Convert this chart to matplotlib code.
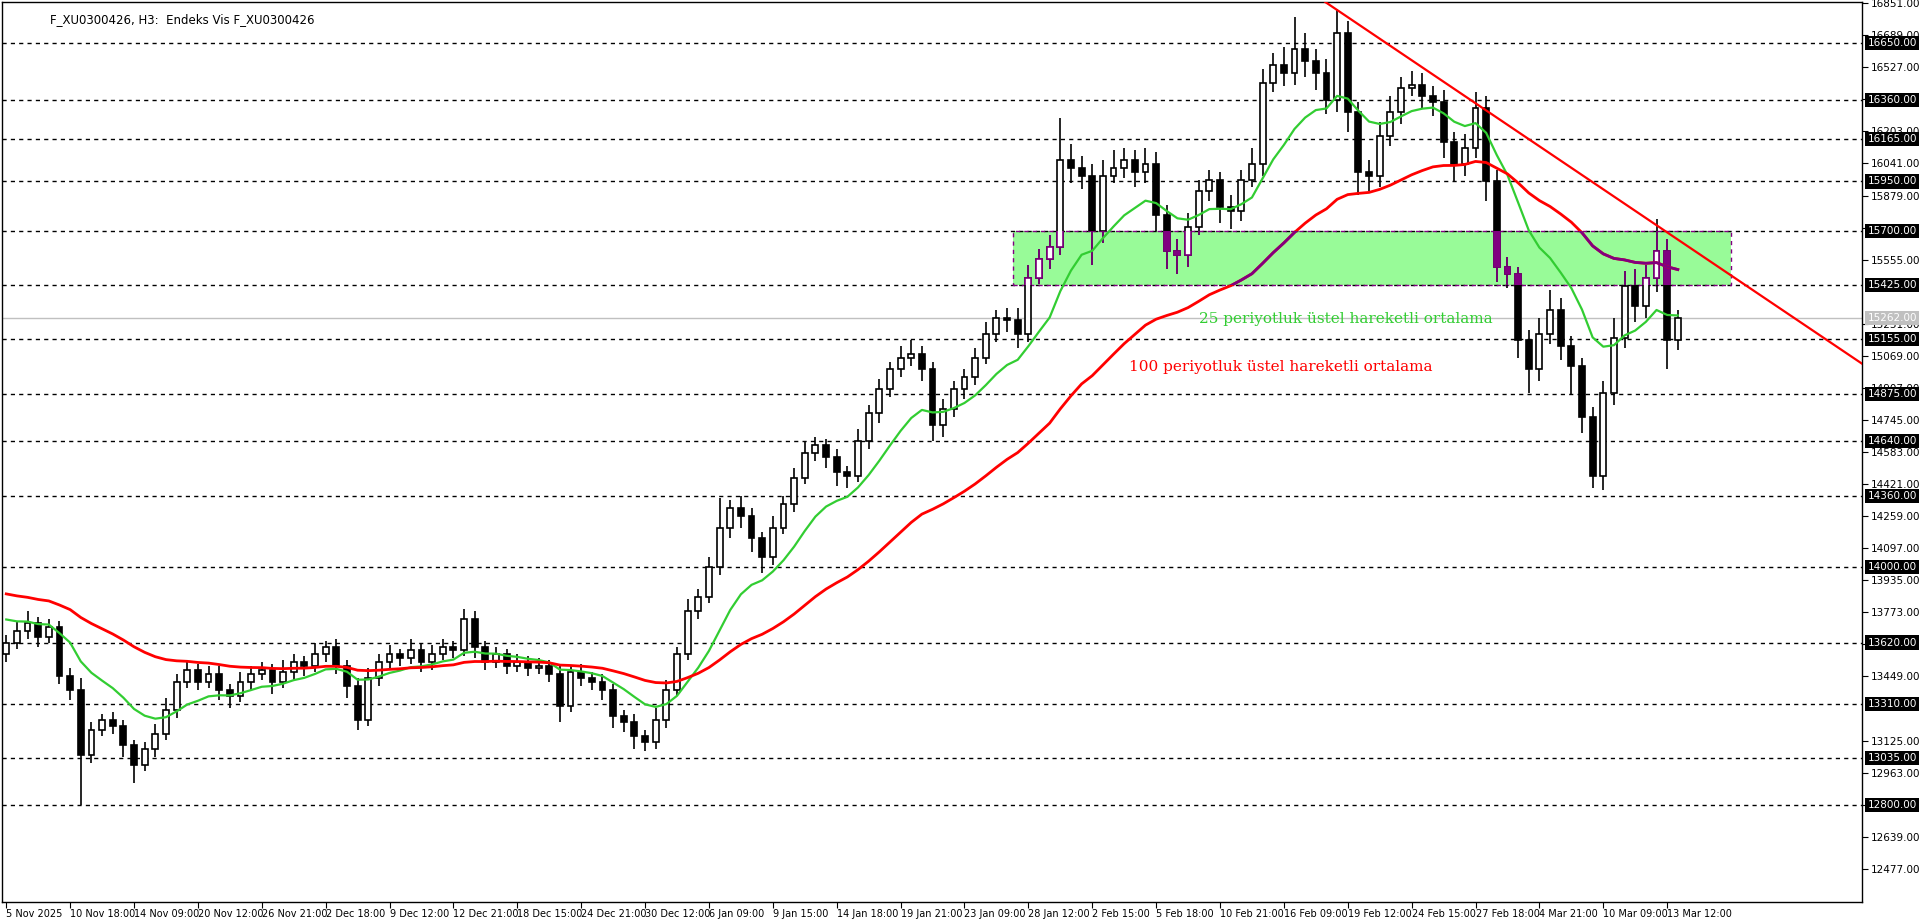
import numpy as np
import matplotlib.pyplot as plt
from matplotlib.patches import Rectangle

# closes (one bar here ~ two H3 bars of the original)
closes = [13620, 13680, 13720, 13650, 13700, 13450, 13380, 13050, 13180, 13230,
          13200, 13100, 13000, 13080, 13160, 13280, 13420, 13480, 13420, 13460,
          13380, 13350, 13420, 13460, 13480, 13420, 13470, 13520, 13500, 13560,
          13600, 13500, 13400, 13230, 13440, 13520, 13560, 13540, 13580, 13520,
          13560, 13600, 13580, 13740, 13600, 13520, 13560, 13500, 13520, 13490,
          13500, 13460, 13300, 13470, 13440, 13420, 13380, 13250, 13220, 13150,
          13120, 13230, 13380, 13560, 13780, 13850, 14000, 14200, 14300, 14260,
          14150, 14050, 14200, 14320, 14450, 14580, 14620, 14560, 14480, 14460,
          14640, 14780, 14900, 15000, 15060, 15080, 15000, 14720, 14800, 14900,
          14960, 15060, 15180, 15260, 15250, 15180, 15460, 15560, 15620, 16060,
          16020, 15980, 15700, 15980, 16020, 16060, 16000, 16040, 15780, 15600,
          15580, 15720, 15900, 15960, 15820, 15800, 15960, 16040, 16450, 16540,
          16500, 16620, 16560, 16500, 16360, 16700, 16300, 16000, 15980, 16180,
          16300, 16420, 16440, 16380, 16350, 16150, 16040, 16120, 16320, 15950,
          15520, 15480, 15150, 15000, 15180, 15300, 15120, 15020, 14760, 14460,
          14880, 15160, 15420, 15320, 15460, 15600, 15150, 15260]
first_open = 13560
up_wick = [40, 50, 60, 30, 40, 30, 40, 60, 40, 30,
           40, 30, 30, 40, 50, 60, 40, 50, 30, 40,
           40, 30, 50, 40, 40, 30, 60, 40, 30, 60,
           30, 40, 30, 40, 50, 40, 50, 30, 60, 40,
           50, 40, 30, 50, 40, 30, 40, 30, 40, 30,
           40, 30, 40, 30, 40, 30, 40, 30, 30, 40,
           30, 60, 50, 40, 60, 40, 50, 150, 40, 60,
           40, 30, 60, 40, 50, 60, 40, 30, 40, 30,
           60, 40, 50, 40, 60, 70, 40, 40, 50, 40,
           40, 50, 60, 40, 50, 60, 70, 50, 60, 210,
           80, 60, 60, 80, 90, 60, 50, 80, 60, 50,
           60, 70, 60, 50, 40, 60, 50, 80, 70, 60,
           90, 160, 80, 60, 70, 120, 60, 50, 60, 70,
           80, 60, 70, 60, 50, 60, 50, 70, 80, 60,
           60, 50, 40, 50, 80, 100, 60, 50, 40, 50,
           60, 100, 80, 90, 70, 160, 60, 40]
lo_wick = [40, 30, 40, 50, 30, 40, 50, 250, 40, 30,
           40, 60, 90, 30, 40, 30, 40, 30, 40, 30,
           50, 60, 30, 40, 30, 60, 30, 40, 50, 30,
           40, 40, 60, 50, 30, 40, 30, 40, 30, 50,
           40, 30, 40, 30, 60, 40, 30, 40, 30, 40,
           30, 40, 80, 30, 40, 40, 50, 60, 50, 70,
           50, 40, 40, 30, 30, 40, 30, 40, 50, 60,
           70, 80, 40, 30, 40, 30, 40, 60, 70, 60,
           30, 40, 50, 40, 40, 40, 60, 80, 60, 40,
           50, 40, 30, 40, 60, 70, 40, 30, 50, 40,
           80, 70, 170, 60, 40, 50, 80, 60, 80, 90,
           100, 60, 40, 50, 80, 90, 50, 40, 60, 50,
           70, 60, 80, 90, 70, 60, 100, 120, 80, 60,
           50, 60, 40, 60, 70, 80, 90, 60, 50, 100,
           80, 70, 90, 120, 60, 50, 70, 150, 80, 60,
           70, 60, 50, 80, 60, 70, 150, 50]

levels = [16650, 16360, 16165, 15950, 15700, 15425, 15155, 14875, 14640,
          14360, 14000, 13620, 13310, 13035, 12800]
last_price = 15262
y_ticks = [16851, 16689, 16527, 16365, 16203, 16041, 15879, 15717, 15555,
           15231, 15069, 14907, 14745, 14583, 14421, 14259, 14097, 13935, 13773,
           13611, 13449, 13125, 12963, 12801, 12639, 12477]
x_labels = ["5 Nov 2025", "10 Nov 18:00", "14 Nov 09:00", "20 Nov 12:00", "26 Nov 21:00",
            "2 Dec 18:00", "9 Dec 12:00", "12 Dec 21:00", "18 Dec 15:00", "24 Dec 21:00",
            "30 Dec 12:00", "6 Jan 09:00", "9 Jan 15:00", "14 Jan 18:00", "19 Jan 21:00",
            "23 Jan 09:00", "28 Jan 12:00", "2 Feb 15:00", "5 Feb 18:00", "10 Feb 21:00",
            "16 Feb 09:00", "19 Feb 12:00", "24 Feb 15:00", "27 Feb 18:00", "4 Mar 21:00",
            "10 Mar 09:00", "13 Mar 12:00"]

closes = np.array(closes, float)
opens = np.r_[first_open, closes[:-1]]
highs = np.maximum(opens, closes) + np.array(up_wick)
lows = np.minimum(opens, closes) - np.array(lo_wick)
x = np.arange(len(closes))


def ema(values, n, seed):
    a = 2.0 / (n + 1)
    out = []
    prev = seed
    for v in values:
        prev = prev + a * (v - prev)
        out.append(prev)
    return np.array(out)


ema_fast = ema(closes, 11, 13760)
ema_slow = ema(closes, 36, 13880)

fig = plt.figure(figsize=(19.2, 9.23), dpi=100)
ax = fig.add_axes([2 / 1920, 21 / 923, 1860 / 1920, 900 / 923])
ax.set_xlim(-0.4, 174.3)
ax.set_ylim(12309, 16857)

box = Rectangle((94.6, 15425), 67.4, 275, facecolor="#98fb98", edgecolor="none", zorder=0)
ax.add_patch(box)

for lv in levels:
    ax.axhline(lv, color="black", lw=1, ls=(0, (3, 3)), zorder=1)
ax.axhline(last_price, color="#c0c0c0", lw=1, zorder=1)


def candles(color, clip=None):
    up = closes >= opens
    body_lo = np.minimum(opens, closes)
    body_h = np.maximum(np.abs(closes - opens), 8)
    wl = ax.vlines(x, lows, highs, color=color, lw=1.2, zorder=3)
    b1 = ax.bar(x[up], body_h[up], bottom=body_lo[up], width=0.55,
                facecolor="white", edgecolor=color, lw=1.2, zorder=4)
    b2 = ax.bar(x[~up], body_h[~up], bottom=body_lo[~up], width=0.55,
                facecolor=color, edgecolor=color, lw=1.2, zorder=4)
    if clip is not None:
        wl.set_clip_path(clip)
        for p in list(b1) + list(b2):
            p.set_clip_path(clip)


candles("black")
ax.plot(x, ema_fast, color="#32cd32", lw=1.6, zorder=5)
ax.plot(x, ema_slow, color="red", lw=2, zorder=5)

# parts inside the zone are shown purple, as on the terminal
clip_box = Rectangle((94.6, 15425), 67.4, 275, transform=ax.transData)
candles("#800080", clip_box)
pl, = ax.plot(x, ema_slow, color="#800080", lw=2, zorder=6)
pl.set_clip_path(clip_box)
ax.plot([94.6, 162, 162, 94.6, 94.6], [15425, 15425, 15700, 15700, 15425],
        color="#800080", lw=1, ls=(0, (3, 3)), zorder=2)

# trend line
ax.axline((124.3, 16842), (175, 15004), color="red", lw=1.6, zorder=6)

ax.text(112, 15256, "25 periyotluk üstel hareketli ortalama", color="#32cd32",
        fontsize=11, family="DejaVu Serif", va="center", zorder=7)
ax.text(105.5, 15014, "100 periyotluk üstel hareketli ortalama", color="red",
        fontsize=11, family="DejaVu Serif", va="center", zorder=7)

ax.text(48 / 1860, 0.988, "F_XU0300426, H3:  Endeks Vis F_XU0300426", transform=ax.transAxes,
        fontsize=8.5, va="top", ha="left")

ax.yaxis.tick_right()
ax.set_yticks(y_ticks)
ax.set_yticklabels([f"{t:.2f}" for t in y_ticks], fontsize=7.5)
ax.tick_params(axis="y", length=4, pad=2)
for lv in levels:
    ax.text(1.003, lv, f"{lv:.2f}", transform=ax.get_yaxis_transform(), fontsize=7.5,
            color="white", va="center", ha="left", zorder=10,
            bbox=dict(boxstyle="square,pad=0.2", fc="black", ec="none"), clip_on=False)
ax.text(1.003, last_price, f"{last_price:.2f}", transform=ax.get_yaxis_transform(),
        fontsize=7.5, color="white", va="center", ha="left", zorder=10,
        bbox=dict(boxstyle="square,pad=0.2", fc="#c0c0c0", ec="none"), clip_on=False)

ax.set_xticks(np.arange(0, 6 * len(x_labels), 6))
ax.set_xticklabels(x_labels, fontsize=7, ha="left")
ax.tick_params(axis="x", length=4, pad=1)
for s in ax.spines.values():
    s.set_linewidth(1)

fig.savefig("out.png", dpi=100)
